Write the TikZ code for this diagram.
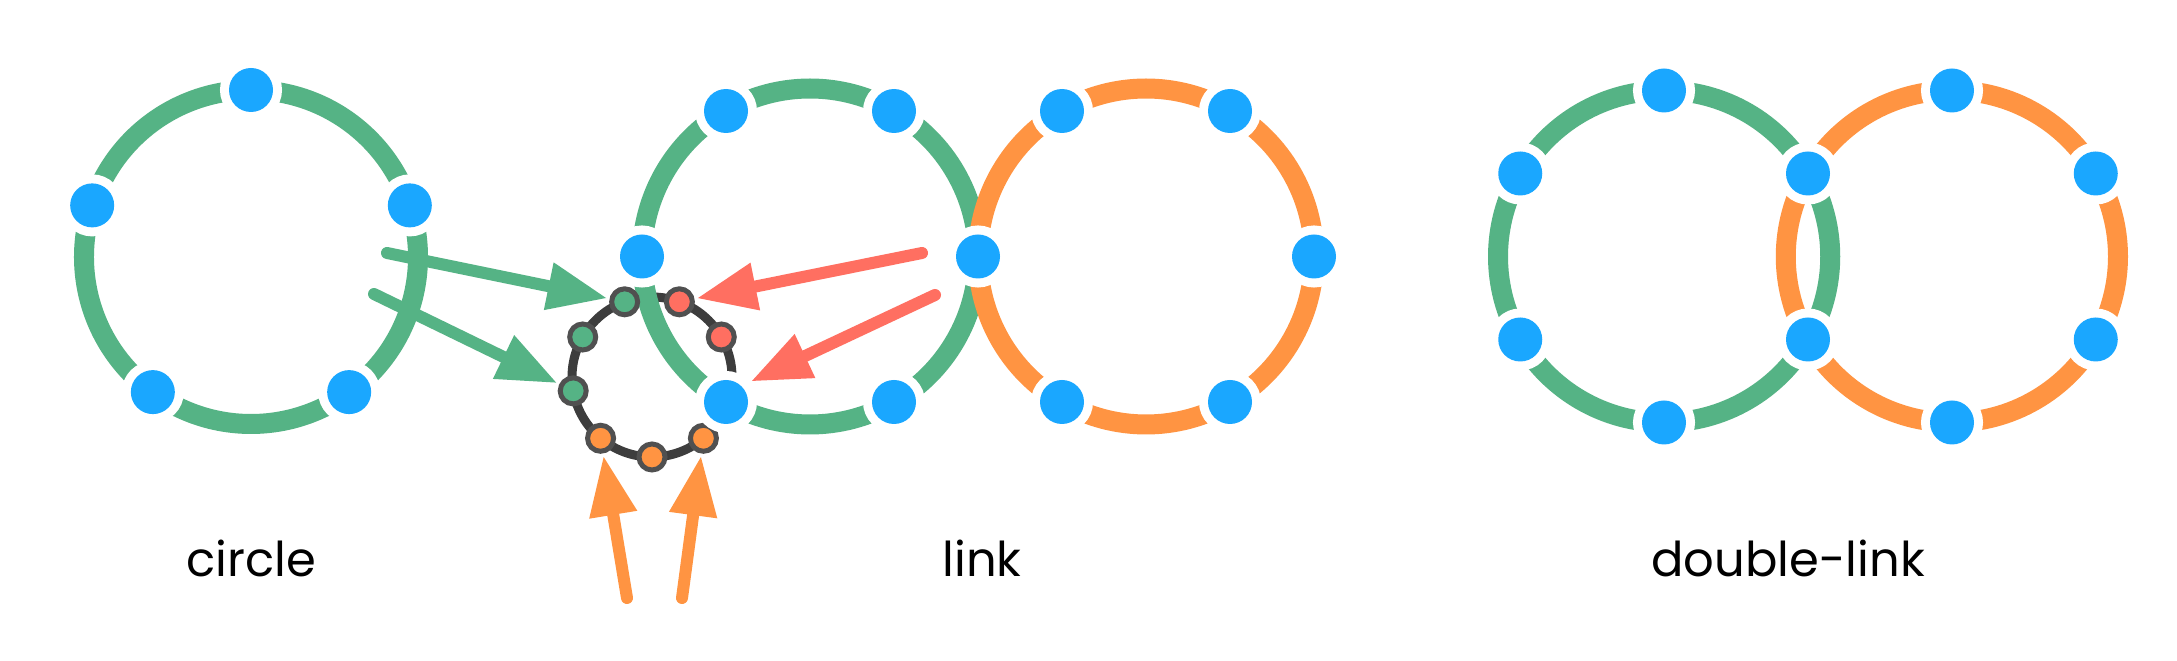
\documentclass[tikz,border=0pt]{standalone}
\usepackage{fontspec}
\setmainfont{Poppins}
\usetikzlibrary{arrows.meta}
\definecolor{ringgreen}{HTML}{55B385}
\definecolor{ringorange}{HTML}{FF9442}
\definecolor{nodeblue}{HTML}{1AA7FF}
\definecolor{arrowred}{HTML}{FF6F61}
\definecolor{darkring}{HTML}{3D3D3D}
\definecolor{smallborder}{HTML}{505050}
\pgfdeclarelayer{bgl}\pgfdeclarelayer{darkl}\pgfdeclarelayer{ringl}\pgfdeclarelayer{topl}
\pgfsetlayers{bgl,darkl,ringl,main,topl}
\begin{document}
\begin{tikzpicture}[x=1pt,y=1pt,
  bluenode/.style={circle,fill=nodeblue,minimum size=44pt,inner sep=0pt,preaction={draw=white,line width=18pt}},
  smallnode/.style={circle,draw=smallborder,line width=5pt,minimum size=26pt,inner sep=0pt},
  greenring/.style={draw=ringgreen,line width=20pt},
  orangering/.style={draw=ringorange,line width=20pt},
  darkringline/.style={draw=darkring,line width=9pt},
  fatarrow/.style={line width=12pt,line cap=round,-{Triangle[length=60pt,width=45pt]},shorten >=2pt},
  captiontext/.style={font=\fontsize{48}{56}\selectfont,anchor=base,text=black,inner sep=0pt}
]
\begin{pgfonlayer}{bgl}
\fill[white] (0,0) rectangle (2177,661);
\end{pgfonlayer}
\useasboundingbox (0,0) rectangle (2177,661);

% ---------------- blue nodes (top layer) ----------------
\begin{pgfonlayer}{topl}
% circle
\foreach \n/\a in {1/90,2/162,3/234,4/306,5/18}
  \node[bluenode] (C\n) at ([shift={(\a:167)}]251,404) {};
% link
\node[bluenode] (S) at (978,404.5) {};
\foreach \n/\a in {1/60,2/120,3/180,4/240,5/300}
  \node[bluenode] (LG\n) at ([shift={(\a:168)}]810,404.5) {};
\foreach \n/\a in {1/120,2/60,3/0,4/300,5/240}
  \node[bluenode] (LO\n) at ([shift={(\a:168)}]1146,404.5) {};
% double-link
\node[bluenode] (DS1) at (1808,487.5) {};
\node[bluenode] (DS2) at (1808,321.5) {};
\foreach \n/\a in {1/90,2/150,3/210,4/270}
  \node[bluenode] (DG\n) at ([shift={(\a:166)}]1664,404.5) {};
\foreach \n/\a in {1/90,2/30,3/330,4/270}
  \node[bluenode] (DO\n) at ([shift={(\a:166)}]1952,404.5) {};
\end{pgfonlayer}

% ---------------- rings ----------------
\begin{pgfonlayer}{ringl}
% circle
\draw[greenring] (C1.center) arc[start angle=90,end angle=162,radius=167];
\draw[greenring] (C2.center) arc[start angle=162,end angle=234,radius=167];
\draw[greenring] (C3.center) arc[start angle=234,end angle=306,radius=167];
\draw[greenring] (C4.center) arc[start angle=306,end angle=378,radius=167];
\draw[greenring] (C5.center) arc[start angle=18,end angle=90,radius=167];
% link green
\draw[greenring] (S.center) arc[start angle=0,end angle=60,radius=168];
\draw[greenring] (LG1.center) arc[start angle=60,end angle=120,radius=168];
\draw[greenring] (LG2.center) arc[start angle=120,end angle=180,radius=168];
\draw[greenring] (LG3.center) arc[start angle=180,end angle=240,radius=168];
\draw[greenring] (LG4.center) arc[start angle=240,end angle=300,radius=168];
\draw[greenring] (LG5.center) arc[start angle=300,end angle=360,radius=168];
% link orange
\draw[orangering] (S.center) arc[start angle=180,end angle=240,radius=168];
\draw[orangering] (LO5.center) arc[start angle=240,end angle=300,radius=168];
\draw[orangering] (LO4.center) arc[start angle=300,end angle=360,radius=168];
\draw[orangering] (LO3.center) arc[start angle=0,end angle=60,radius=168];
\draw[orangering] (LO2.center) arc[start angle=60,end angle=120,radius=168];
\draw[orangering] (LO1.center) arc[start angle=120,end angle=180,radius=168];
% double-link green
\draw[greenring] (DG1.center) arc[start angle=90,end angle=150,radius=166];
\draw[greenring] (DG2.center) arc[start angle=150,end angle=210,radius=166];
\draw[greenring] (DG3.center) arc[start angle=210,end angle=270,radius=166];
\draw[greenring] (DG4.center) arc[start angle=270,end angle=330,radius=166];
\draw[greenring] (DS2.center) arc[start angle=-30,end angle=30,radius=166];
\draw[greenring] (DS1.center) arc[start angle=30,end angle=90,radius=166];
% double-link orange
\draw[orangering] (DO1.center) arc[start angle=90,end angle=150,radius=166];
\draw[orangering] (DS1.center) arc[start angle=150,end angle=210,radius=166];
\draw[orangering] (DS2.center) arc[start angle=210,end angle=270,radius=166];
\draw[orangering] (DO4.center) arc[start angle=270,end angle=330,radius=166];
\draw[orangering] (DO3.center) arc[start angle=-30,end angle=30,radius=166];
\draw[orangering] (DO2.center) arc[start angle=30,end angle=90,radius=166];
\end{pgfonlayer}

% ---------------- small ring ----------------
\node[smallnode,fill=arrowred]   (n1) at ([shift={(30:80)}]652,284) {};
\node[smallnode,fill=arrowred]   (n2) at ([shift={(70:80)}]652,284) {};
\node[smallnode,fill=ringgreen]  (n3) at ([shift={(110:80)}]652,284) {};
\node[smallnode,fill=ringgreen]  (n4) at ([shift={(150:80)}]652,284) {};
\node[smallnode,fill=ringgreen]  (n5) at ([shift={(190:80)}]652,284) {};
\node[smallnode,fill=ringorange] (n6) at ([shift={(230:80)}]652,284) {};
\node[smallnode,fill=ringorange] (n7) at ([shift={(270:80)}]652,284) {};
\node[smallnode,fill=ringorange] (n8) at ([shift={(310:80)}]652,284) {};
\coordinate (n9) at ([shift={(350:80)}]652,284);
\begin{pgfonlayer}{darkl}
\draw[darkringline] (n1.center) arc[start angle=30,end angle=70,radius=80];
\draw[darkringline] (n2.center) arc[start angle=70,end angle=110,radius=80];
\draw[darkringline] (n3.center) arc[start angle=110,end angle=150,radius=80];
\draw[darkringline] (n4.center) arc[start angle=150,end angle=190,radius=80];
\draw[darkringline] (n5.center) arc[start angle=190,end angle=230,radius=80];
\draw[darkringline] (n6.center) arc[start angle=230,end angle=270,radius=80];
\draw[darkringline] (n7.center) arc[start angle=270,end angle=310,radius=80];
\draw[darkringline] (n8.center) arc[start angle=310,end angle=350,radius=80];
\draw[darkringline] (n9) arc[start angle=350,end angle=390,radius=80];
\end{pgfonlayer}

% ---------------- arrows ----------------
\coordinate (ga) at (387,408);
\coordinate (gb) at (374,367);
\coordinate (ra) at (922,408);
\coordinate (rb) at (935,366);
\coordinate (oa) at (627,63);
\coordinate (ob) at (682,63);
\draw[fatarrow,ringgreen] (ga) -- (n3);
\draw[fatarrow,ringgreen] (gb) -- (n5);
\draw[fatarrow,arrowred] (ra) -- (n2);
\draw[fatarrow,arrowred,shorten >=22pt] (rb) -- (n9);
\draw[fatarrow,ringorange] (oa) -- (n6);
\draw[fatarrow,ringorange] (ob) -- (n8);

% ---------------- captions ----------------
\node[captiontext] (t1) at (251,84) {circle};
\node[captiontext] (t2) at (982,84) {link};
\node[captiontext] (t3) at (1788,84) {double-link};
\end{tikzpicture}
\end{document}
